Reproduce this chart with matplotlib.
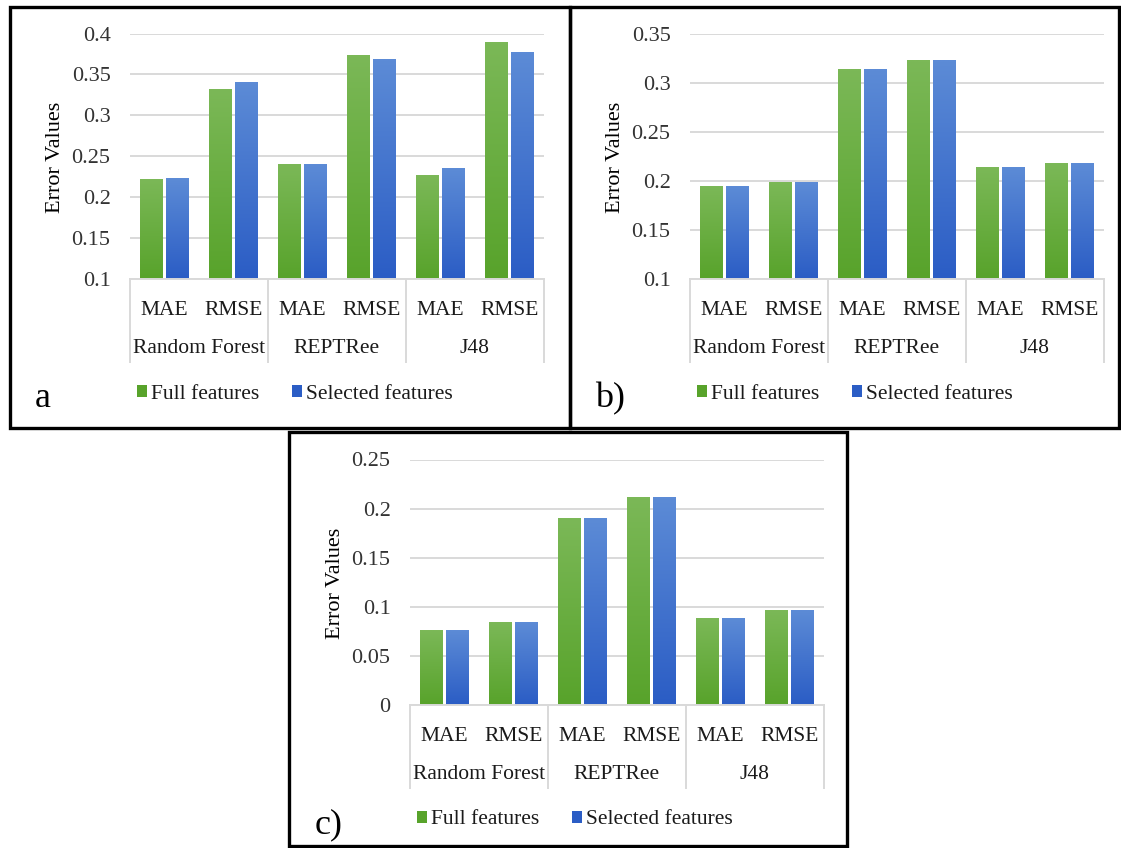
import numpy as np
import matplotlib
matplotlib.use("Agg")
import matplotlib.pyplot as plt
from matplotlib.patches import Rectangle, Patch
from matplotlib.transforms import blended_transform_factory

plt.rcParams['font.family'] = ['Liberation Serif', 'DejaVu Serif']

# ---- data -------------------------------------------------------------
metrics = ["MAE", "RMSE", "MAE", "RMSE", "MAE", "RMSE"]
models = ["Random Forest", "REPTRee", "J48"]
series_names = ["Full features", "Selected features"]

full_a = [0.221, 0.331, 0.240, 0.373, 0.227, 0.389]
sel_a = [0.223, 0.340, 0.240, 0.368, 0.235, 0.377]

full_b = [0.194, 0.198, 0.313, 0.323, 0.214, 0.218]
sel_b = [0.194, 0.198, 0.313, 0.323, 0.214, 0.218]

full_c = [0.076, 0.084, 0.190, 0.211, 0.088, 0.096]
sel_c = [0.076, 0.084, 0.190, 0.211, 0.088, 0.096]

ylims = [(0.1, 0.4), (0.1, 0.35), (0.0, 0.25)]
panel_tags = ["a", "b)", "c)"]

# ---- styling ----------------------------------------------------------
W, H = 1121, 848
GREEN_TOP, GREEN_BOT = "#7bb857", "#58a32b"
BLUE_TOP, BLUE_BOT = "#5c8bd6", "#2b5dc5"
GRID = "#d9d9d9"
TXT = "#1a1a1a"
FS = 15.5

fig = plt.figure(figsize=(W / 100, H / 100), dpi=100)
fig.patch.set_facecolor("white")


def fx(px):
    return px / W


def fy(py):
    return 1 - py / H


def gradient(top, bot, n=64):
    c0 = np.array(matplotlib.colors.to_rgb(top))
    c1 = np.array(matplotlib.colors.to_rgb(bot))
    t = np.linspace(0, 1, n)[:, None]
    return (c0 * (1 - t) + c1 * t)[:, None, :]


def draw_panel(dx, dy, full, sel, ylim, tag):
    left, right, top, bottom = 130 + dx, 544 + dx, 33.5 + dy, 279 + dy
    ax = fig.add_axes([fx(left), fy(bottom), fx(right - left), (bottom - top) / H])
    ymin, ymax = ylim
    x = np.arange(len(metrics))
    width, off = 0.33, 0.19

    for vals, offs, (ct, cb) in [(full, -off, (GREEN_TOP, GREEN_BOT)),
                                 (sel, off, (BLUE_TOP, BLUE_BOT))]:
        vals = np.asarray(vals)
        bars = ax.bar(x + offs, vals - ymin, width, bottom=ymin,
                      color="none", edgecolor="none", zorder=2)
        g = gradient(ct, cb)
        for b in bars:
            x0, y0 = b.get_xy()
            ax.imshow(g, extent=(x0, x0 + b.get_width(), y0, y0 + b.get_height()),
                      aspect="auto", origin="upper", interpolation="bilinear",
                      zorder=2)

    ax.set_xlim(-0.5, len(metrics) - 0.5)
    ax.set_ylim(ymin, ymax)
    ax.set_aspect("auto")
    ticks = np.round(np.arange(ymin, ymax + 1e-9, 0.05), 2)
    ax.set_yticks(ticks)
    ax.set_yticklabels([f"{t:g}" for t in ticks], fontsize=16, color="#333333")
    ax.tick_params(axis="y", length=0, pad=14)
    ax.set_xticks([])
    ax.yaxis.grid(True, color=GRID, lw=1.4)
    ax.set_axisbelow(True)
    for s in ["left", "right", "top"]:
        ax.spines[s].set_visible(False)
    ax.spines["bottom"].set_color(GRID)
    ax.spines["bottom"].set_linewidth(1.4)

    # two-level category axis
    h_ax = bottom - top
    tr = blended_transform_factory(ax.transData, ax.transAxes)
    box_depth = -(362 - 279) / h_ax
    for xs in [-0.5, 1.5, 3.5, 5.5]:
        ax.plot([xs, xs], [0, box_depth], color=GRID, lw=1.4,
                transform=tr, clip_on=False)
    for i, m in enumerate(metrics):
        ax.text(i, -(315 - 279) / h_ax, m, transform=tr, ha="center",
                va="baseline", fontsize=FS, color=TXT)
    for j, name in enumerate(models):
        ax.text(2 * j + 0.5, -(353 - 279) / h_ax, name, transform=tr,
                ha="center", va="baseline", fontsize=FS, color=TXT)

    fig.text(fx(55 + dx), fy(157 + dy), "Error Values", rotation=90,
             ha="center", va="center", fontsize=16, color="black")

    handles = [Patch(facecolor=GREEN_BOT, edgecolor="none"),
               Patch(facecolor=BLUE_BOT, edgecolor="none")]
    ax.legend(handles, series_names, loc="center",
              bbox_to_anchor=((295 - 130) / 414, -(394 - 279) / h_ax),
              ncol=2, frameon=False, fontsize=FS, handlelength=0.45,
              handleheight=0.45, handletextpad=0.2, columnspacing=1.5,
              labelcolor=TXT)

    fig.text(fx(35 + dx), fy(407 + dy), tag, ha="left", va="baseline",
             fontsize=26, color="black")
    return ax


draw_panel(0, 0, full_a, sel_a, ylims[0], panel_tags[0])
draw_panel(560, 0, full_b, sel_b, ylims[1], panel_tags[1])
draw_panel(280, 426, full_c, sel_c, ylims[2], panel_tags[2])

# black frames around the panels
frames = [(10, 6.5, 569.5, 428), (569.5, 6.5, 1119, 428), (288.5, 431.5, 846.5, 846)]
for x0, y0, x1, y1 in frames:
    fig.add_artist(Rectangle((fx(x0), fy(y1)), fx(x1 - x0), (y1 - y0) / H,
                             transform=fig.transFigure, fill=False,
                             edgecolor="black", lw=2.4, zorder=10))

fig.savefig("out.png", dpi=100, facecolor="white")
